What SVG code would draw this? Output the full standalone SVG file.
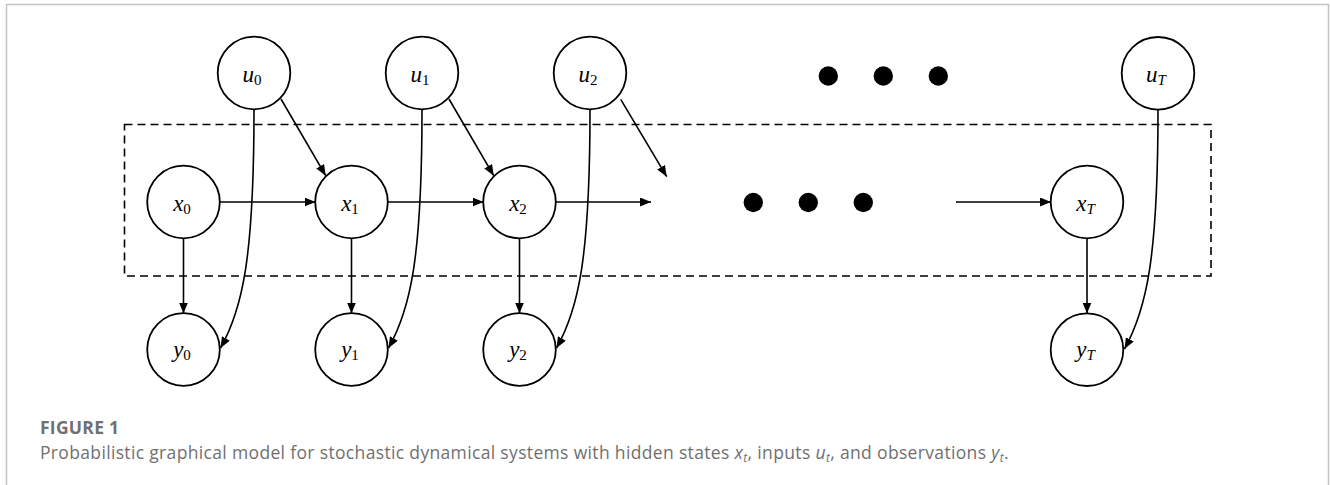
<svg xmlns="http://www.w3.org/2000/svg" width="1330" height="485" viewBox="0 0 1330 485">
<defs>
<marker id="ah" markerUnits="userSpaceOnUse" markerWidth="12" markerHeight="10" refX="11" refY="4.5" orient="auto">
<path d="M0,0 L11,4.5 L0,9 z" fill="#000"/>
</marker>
<style>
.node{fill:#fff;stroke:#000;stroke-width:1.8}
.edge{fill:none;stroke:#000;stroke-width:1.6;marker-end:url(#ah)}
.lbl{font-family:"Liberation Serif",serif;font-style:italic;font-size:23px;fill:#000;text-anchor:middle}
.sub{font-size:15px}
.up{font-style:normal}
.dot{fill:#000}
.cap{font-family:"Open Sans","Liberation Sans",sans-serif;fill:#707070}
</style>
</defs>
<rect x="6.5" y="4.5" width="1322" height="600" fill="#fff" stroke="#c4c4c4" stroke-width="1.5"/>
<rect id="plate" x="124.5" y="124.5" width="1086.5" height="151.5" fill="none" stroke="#000" stroke-width="1.6" stroke-dasharray="8,5"/>
<g id="edges">
<path class="edge" d="M219.5,202 L315.5,202"/>
<path class="edge" d="M387.5,202 L483.5,202"/>
<path class="edge" d="M555.5,202 L651,202"/>
<path class="edge" d="M956,202 L1051,202"/>
<path class="edge" d="M183.5,238 L183.5,313.5"/>
<path class="edge" d="M351.5,238 L351.5,313.5"/>
<path class="edge" d="M519.5,238 L519.5,313.5"/>
<path class="edge" d="M1087,238 L1087,313.5"/>
<path class="edge" d="M281,99 L325.7,175.7"/>
<path class="edge" d="M449,99 L493.7,175.7"/>
<path class="edge" d="M620.7,99.3 L666.7,176.7"/>
<path class="edge" d="M254,109.5 C254,260 242,310 220.5,348"/>
<path class="edge" d="M422,109.5 C422,260 410,310 388.5,348"/>
<path class="edge" d="M590,109.5 C590,260 578,310 556.5,348"/>
<path class="edge" d="M1158,110 C1158,260 1146,310 1124.5,349"/>
</g>
<g id="u0"><circle class="node" cx="254" cy="73" r="36.3"/><text class="lbl" x="252" y="81.5">u<tspan class="sub up" dy="3">0</tspan></text></g>
<g id="u1"><circle class="node" cx="422" cy="73" r="36.3"/><text class="lbl" x="420" y="81.5">u<tspan class="sub up" dy="3">1</tspan></text></g>
<g id="u2"><circle class="node" cx="590" cy="73" r="36.3"/><text class="lbl" x="588" y="81.5">u<tspan class="sub up" dy="3">2</tspan></text></g>
<g id="uT"><circle class="node" cx="1158" cy="73.3" r="36.3"/><text class="lbl" x="1156" y="81.5">u<tspan class="sub" dy="3">T</tspan></text></g>
<g id="x0"><circle class="node" cx="183.5" cy="202" r="36.3"/><text class="lbl" x="182" y="210.5">x<tspan class="sub up" dy="3">0</tspan></text></g>
<g id="x1"><circle class="node" cx="351.5" cy="202" r="36.3"/><text class="lbl" x="350" y="210.5">x<tspan class="sub up" dy="3">1</tspan></text></g>
<g id="x2"><circle class="node" cx="519.5" cy="202" r="36.3"/><text class="lbl" x="518" y="210.5">x<tspan class="sub up" dy="3">2</tspan></text></g>
<g id="xT"><circle class="node" cx="1087" cy="202" r="36.3"/><text class="lbl" x="1085.5" y="210.5">x<tspan class="sub" dy="3">T</tspan></text></g>
<g id="y0"><circle class="node" cx="183.5" cy="349.5" r="36.3"/><text class="lbl" x="182" y="356.5">y<tspan class="sub up" dy="3">0</tspan></text></g>
<g id="y1"><circle class="node" cx="351.5" cy="349.5" r="36.3"/><text class="lbl" x="350" y="356.5">y<tspan class="sub up" dy="3">1</tspan></text></g>
<g id="y2"><circle class="node" cx="519.5" cy="349.5" r="36.3"/><text class="lbl" x="518" y="356.5">y<tspan class="sub up" dy="3">2</tspan></text></g>
<g id="yT"><circle class="node" cx="1087" cy="349.7" r="36.3"/><text class="lbl" x="1085.5" y="356.5">y<tspan class="sub" dy="3">T</tspan></text></g>
<g id="dots-top"><circle class="dot" cx="828.3" cy="76" r="9.7"/><circle class="dot" cx="883.3" cy="76" r="9.7"/><circle class="dot" cx="938.3" cy="76" r="9.7"/></g>
<g id="dots-mid"><circle class="dot" cx="753.3" cy="202.5" r="9.7"/><circle class="dot" cx="808.3" cy="202.5" r="9.7"/><circle class="dot" cx="863.3" cy="202.5" r="9.7"/></g>
<text class="cap" x="40" y="434" font-size="17.5" font-weight="bold" textLength="79" lengthAdjust="spacing">FIGURE 1</text>
<text class="cap" x="40" y="459" font-size="17.5" letter-spacing="0.34">Probabilistic graphical model for stochastic dynamical systems with hidden states <tspan font-style="italic">x</tspan><tspan font-style="italic" font-size="12" dy="3">t</tspan><tspan dy="-3">, inputs </tspan><tspan font-style="italic">u</tspan><tspan font-style="italic" font-size="12" dy="3">t</tspan><tspan dy="-3">, and observations </tspan><tspan font-style="italic">y</tspan><tspan font-style="italic" font-size="12" dy="3">t</tspan><tspan dy="-3">.</tspan></text>
</svg>
